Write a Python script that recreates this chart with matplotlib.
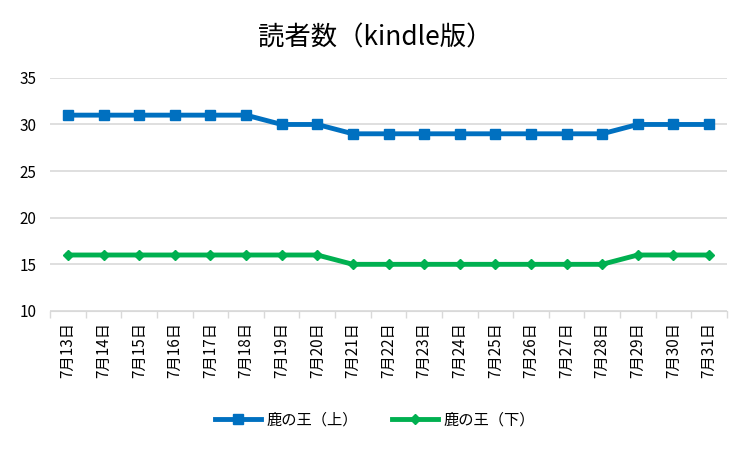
import matplotlib
matplotlib.use('Agg')
import matplotlib.pyplot as plt
import numpy as np

plt.rcParams['font.family'] = ['Noto Sans CJK JP', 'DejaVu Sans']

# データ
fechas = [f'7月{d}日' for d in range(13, 32)]
ue = [31, 31, 31, 31, 31, 31, 30, 30, 29, 29, 29, 29, 29, 29, 29, 29, 30, 30, 30]
shita = [16, 16, 16, 16, 16, 16, 16, 16, 15, 15, 15, 15, 15, 15, 15, 15, 16, 16, 16]

fig = plt.figure(figsize=(7.5, 4.5), dpi=100)
ax = fig.add_axes([0.067, 0.309, 0.902, 0.518])

x = np.arange(len(fechas))
ax.plot(x, ue, color='#0070C0', linewidth=3.5, marker='s', markersize=7, label='鹿の王（上）')
ax.plot(x, shita, color='#00B050', linewidth=3.5, marker='D', markersize=5, label='鹿の王（下）')

ax.set_xlim(-0.5, len(fechas) - 0.5)
ax.set_ylim(10, 35)
ax.set_yticks(range(10, 36, 5))
ax.set_xticks(x)
ax.set_xticklabels(fechas, rotation=90, fontsize=11)
ax.tick_params(axis='x', which='major', length=0, pad=8)
ax.set_xticks(np.arange(-0.5, len(fechas), 1), minor=True)
ax.tick_params(axis='x', which='minor', length=5, color='#D9D9D9', width=1)
ax.tick_params(axis='y', length=0, labelsize=11, pad=10)
ax.grid(axis='y', color='#D9D9D9', linewidth=1.2)
ax.set_axisbelow(True)
for lado in ['top', 'right', 'left']:
    ax.spines[lado].set_visible(False)
ax.spines['bottom'].set_color('#D9D9D9')

fig.suptitle('読者数（kindle版）', fontsize=19, y=0.945)
fig.legend(loc='lower center', bbox_to_anchor=(0.5, 0.018), ncol=2, frameon=False,
           fontsize=11, handlelength=3.0, handletextpad=0.4, columnspacing=2.2)

plt.savefig('out.png')
